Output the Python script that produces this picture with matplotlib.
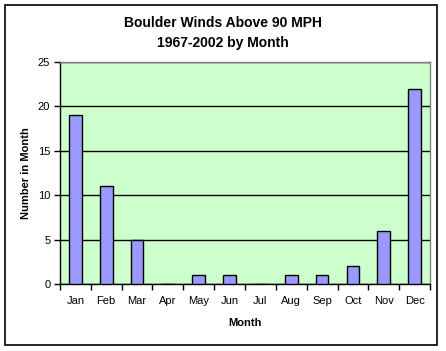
import matplotlib
matplotlib.use("Agg")
import matplotlib.pyplot as plt
from matplotlib.patches import Rectangle

# data
months = ['Jan', 'Feb', 'Mar', 'Apr', 'May', 'Jun', 'Jul', 'Aug', 'Sep', 'Oct', 'Nov', 'Dec']
counts = [19, 11, 5, 0, 1, 1, 0, 1, 1, 2, 6, 22]
y_ticks = [0, 5, 10, 15, 20, 25]

plt.rcParams['font.family'] = ['Liberation Sans', 'DejaVu Sans']

fig = plt.figure(figsize=(4.46, 3.51), dpi=100)
fig.patch.set_facecolor('white')

# outer chart border
fig.patches.append(Rectangle((5 / 446, 6 / 351), 432 / 446, 340 / 351, transform=fig.transFigure,
                             fill=False, edgecolor='black', linewidth=1.2))

ax = fig.add_axes([60 / 446, 67 / 351, 370 / 446, 222 / 351])
ax.set_facecolor('#CCFFCC')

x = range(len(months))
ax.bar(x, counts, width=0.41, color='#9999FF', edgecolor='black', linewidth=1, zorder=3)

ax.set_xlim(-0.5, len(months) - 0.5)
ax.set_ylim(0, 25)
ax.set_yticks(y_ticks)
ax.yaxis.grid(True, color='black', linewidth=1, zorder=0)
ax.set_axisbelow(True)

# ticks between categories, labels centred under them
ax.set_xticks([i - 0.5 for i in range(len(months) + 1)])
ax.set_xticklabels([])
ax.set_xticks(list(x), minor=True)
ax.set_xticklabels(months, minor=True, fontsize=8)
ax.tick_params(axis='x', which='minor', length=0, pad=9)
ax.tick_params(axis='x', which='major', length=4, width=1, direction='out')
ax.tick_params(axis='y', length=4, width=1, direction='out', labelsize=8, pad=3)

for side in ['top', 'right']:
    ax.spines[side].set_color('#808080')
    ax.spines[side].set_linewidth(1)
for side in ['left', 'bottom']:
    ax.spines[side].set_color('black')
    ax.spines[side].set_linewidth(1)

ax.set_xlabel('Month', fontsize=8, fontweight='bold', labelpad=8)
ax.set_ylabel('Number in Month', fontsize=8, fontweight='bold', labelpad=5)

fig.text(0.5, 1 - 23 / 351, 'Boulder Winds Above 90 MPH', ha='center', va='center',
         fontsize=10, fontweight='bold')
fig.text(0.5, 1 - 43 / 351, '1967-2002 by Month', ha='center', va='center',
         fontsize=10, fontweight='bold')

fig.savefig('out.png', dpi=100)
